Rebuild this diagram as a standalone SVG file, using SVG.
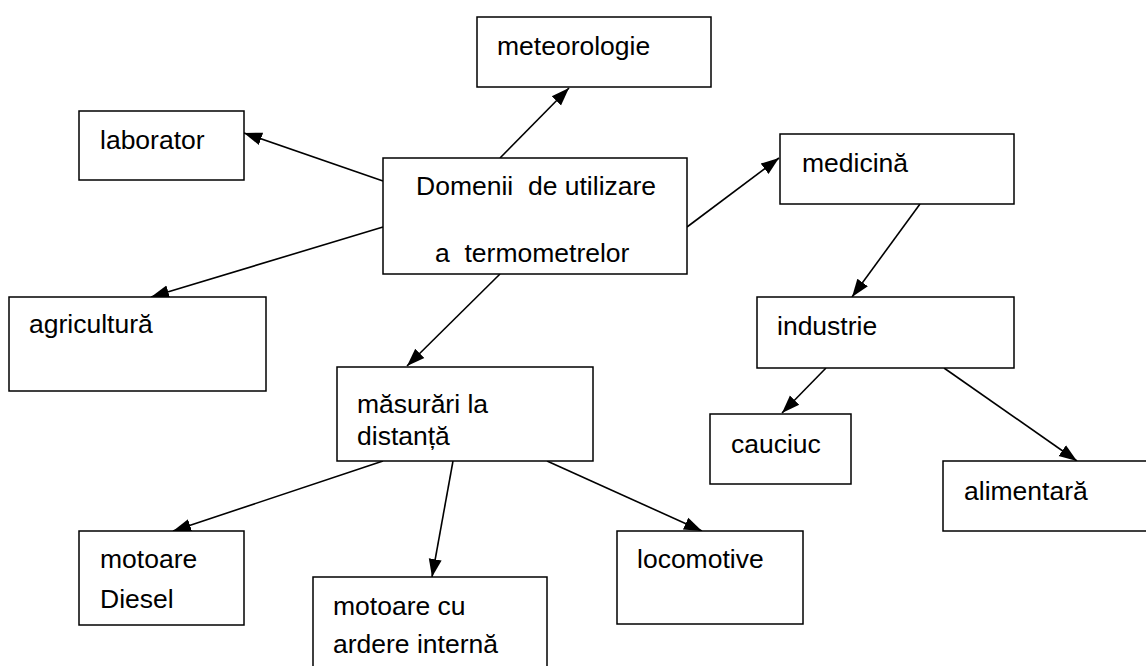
<svg xmlns="http://www.w3.org/2000/svg" width="1146" height="666" viewBox="0 0 1146 666">
<style>
  .box { fill: #ffffff; stroke: #000000; stroke-width: 1.5; }
  .lbl { font-family: "Liberation Sans", Arial, sans-serif; font-size: 26.5px; fill: #000000; white-space: pre; }
  .edge { stroke: #000000; stroke-width: 1.6; fill: none; marker-end: url(#arrow); }
</style>
<defs>
  <marker id="arrow" markerUnits="userSpaceOnUse" markerWidth="20" markerHeight="16" refX="18" refY="8" orient="auto">
    <path d="M0,1.5 L18,8 L0,14.5 Z" fill="#000000"/>
  </marker>
</defs>
<rect width="1146" height="666" fill="#ffffff"/>

<g id="edges">
  <line class="edge" x1="500" y1="158" x2="569" y2="88"/>
  <line class="edge" x1="383" y1="181" x2="244" y2="133"/>
  <line class="edge" x1="383" y1="227" x2="151" y2="297"/>
  <line class="edge" x1="687" y1="227" x2="779" y2="158"/>
  <line class="edge" x1="500" y1="274" x2="407" y2="366"/>
  <line class="edge" x1="920" y1="204" x2="852" y2="297"/>
  <line class="edge" x1="826" y1="368" x2="782" y2="413"/>
  <line class="edge" x1="944" y1="368" x2="1077" y2="461"/>
  <line class="edge" x1="383" y1="461" x2="173" y2="531"/>
  <line class="edge" x1="453" y1="461" x2="432" y2="577"/>
  <line class="edge" x1="547" y1="461" x2="702" y2="531"/>
</g>

<g id="node-center">
  <rect class="box" x="383" y="158" width="304" height="116"/>
  <text class="lbl" x="416" y="195">Domenii  de utilizare</text>
  <text class="lbl" x="435" y="262">a  termometrelor</text>
</g>
<g id="node-meteorologie">
  <rect class="box" x="477" y="17" width="234" height="70"/>
  <text class="lbl" x="497" y="55">meteorologie</text>
</g>
<g id="node-laborator">
  <rect class="box" x="79" y="111" width="165" height="69"/>
  <text class="lbl" x="100" y="149">laborator</text>
</g>
<g id="node-agricultura">
  <rect class="box" x="9" y="297" width="257" height="94"/>
  <text class="lbl" x="29" y="333">agricultură</text>
</g>
<g id="node-medicina">
  <rect class="box" x="780" y="134" width="234" height="70"/>
  <text class="lbl" x="802" y="172">medicină</text>
</g>
<g id="node-industrie">
  <rect class="box" x="757" y="297" width="257" height="71"/>
  <text class="lbl" x="777" y="335">industrie</text>
</g>
<g id="node-masurari">
  <rect class="box" x="337" y="367" width="256" height="94"/>
  <text class="lbl" x="357" y="413">măsurări la</text>
  <text class="lbl" x="357" y="445">distanță</text>
</g>
<g id="node-cauciuc">
  <rect class="box" x="710" y="414" width="141" height="70"/>
  <text class="lbl" x="731" y="453">cauciuc</text>
</g>
<g id="node-alimentara">
  <rect class="box" x="943" y="461" width="210" height="70"/>
  <text class="lbl" x="964" y="500">alimentară</text>
</g>
<g id="node-diesel">
  <rect class="box" x="79" y="531" width="165" height="94"/>
  <text class="lbl" x="100" y="568">motoare</text>
  <text class="lbl" x="100" y="608">Diesel</text>
</g>
<g id="node-ardere">
  <rect class="box" x="313" y="577" width="234" height="95"/>
  <text class="lbl" x="333" y="615">motoare cu</text>
  <text class="lbl" x="333" y="653">ardere internă</text>
</g>
<g id="node-locomotive">
  <rect class="box" x="617" y="531" width="186" height="93"/>
  <text class="lbl" x="637" y="568">locomotive</text>
</g>
</svg>
